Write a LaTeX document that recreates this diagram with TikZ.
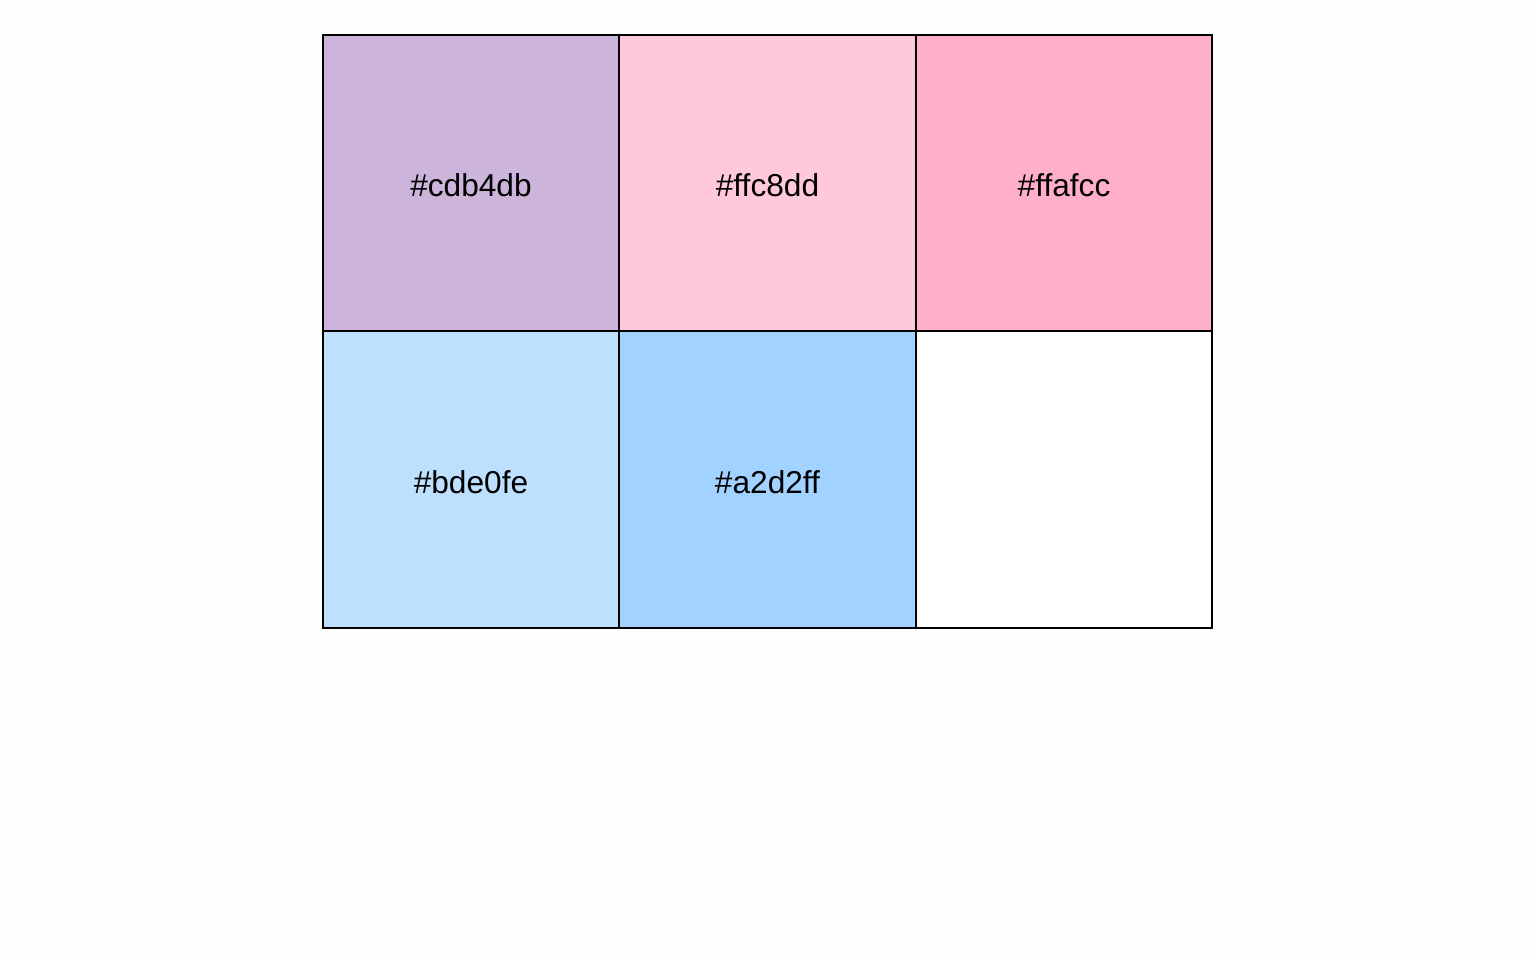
\documentclass[tikz,border=0pt]{standalone}
\usepackage{fontspec}
\setmainfont{Liberation Sans}
\definecolor{cPurple}{HTML}{CDB4DB}
\definecolor{cPink}{HTML}{FFC8DD}
\definecolor{cRose}{HTML}{FFAFCC}
\definecolor{cSky}{HTML}{BDE0FE}
\definecolor{cBlue}{HTML}{A2D2FF}
\definecolor{cBack}{HTML}{FEFEFE}
\tikzset{swatch/.style={draw=black, line width=0.6pt, minimum width=2.965cm, minimum height=2.965cm, inner sep=0pt, text height=8pt, font=\fontsize{9}{10}\selectfont}}

\begin{document}
\begin{tikzpicture}[x=0.01cm, y=-0.01cm]
    \fill[cBack] (0,0) rectangle (1536,960);
    \useasboundingbox (0,0) rectangle (1536,960);
    \node[swatch, fill=cPurple] (purple) at (471, 183) {\#cdb4db};
    \node[swatch, fill=cPink] (pink) at (767.5, 183) {\#ffc8dd};
    \node[swatch, fill=cRose] (rose) at (1064, 183) {\#ffafcc};
    \node[swatch, fill=cSky] (sky) at (471, 479.5) {\#bde0fe};
    \node[swatch, fill=cBlue] (blue) at (767.5, 479.5) {\#a2d2ff};
    \node[swatch, fill=white] (empty) at (1064, 479.5) {};
\end{tikzpicture}
\end{document}
